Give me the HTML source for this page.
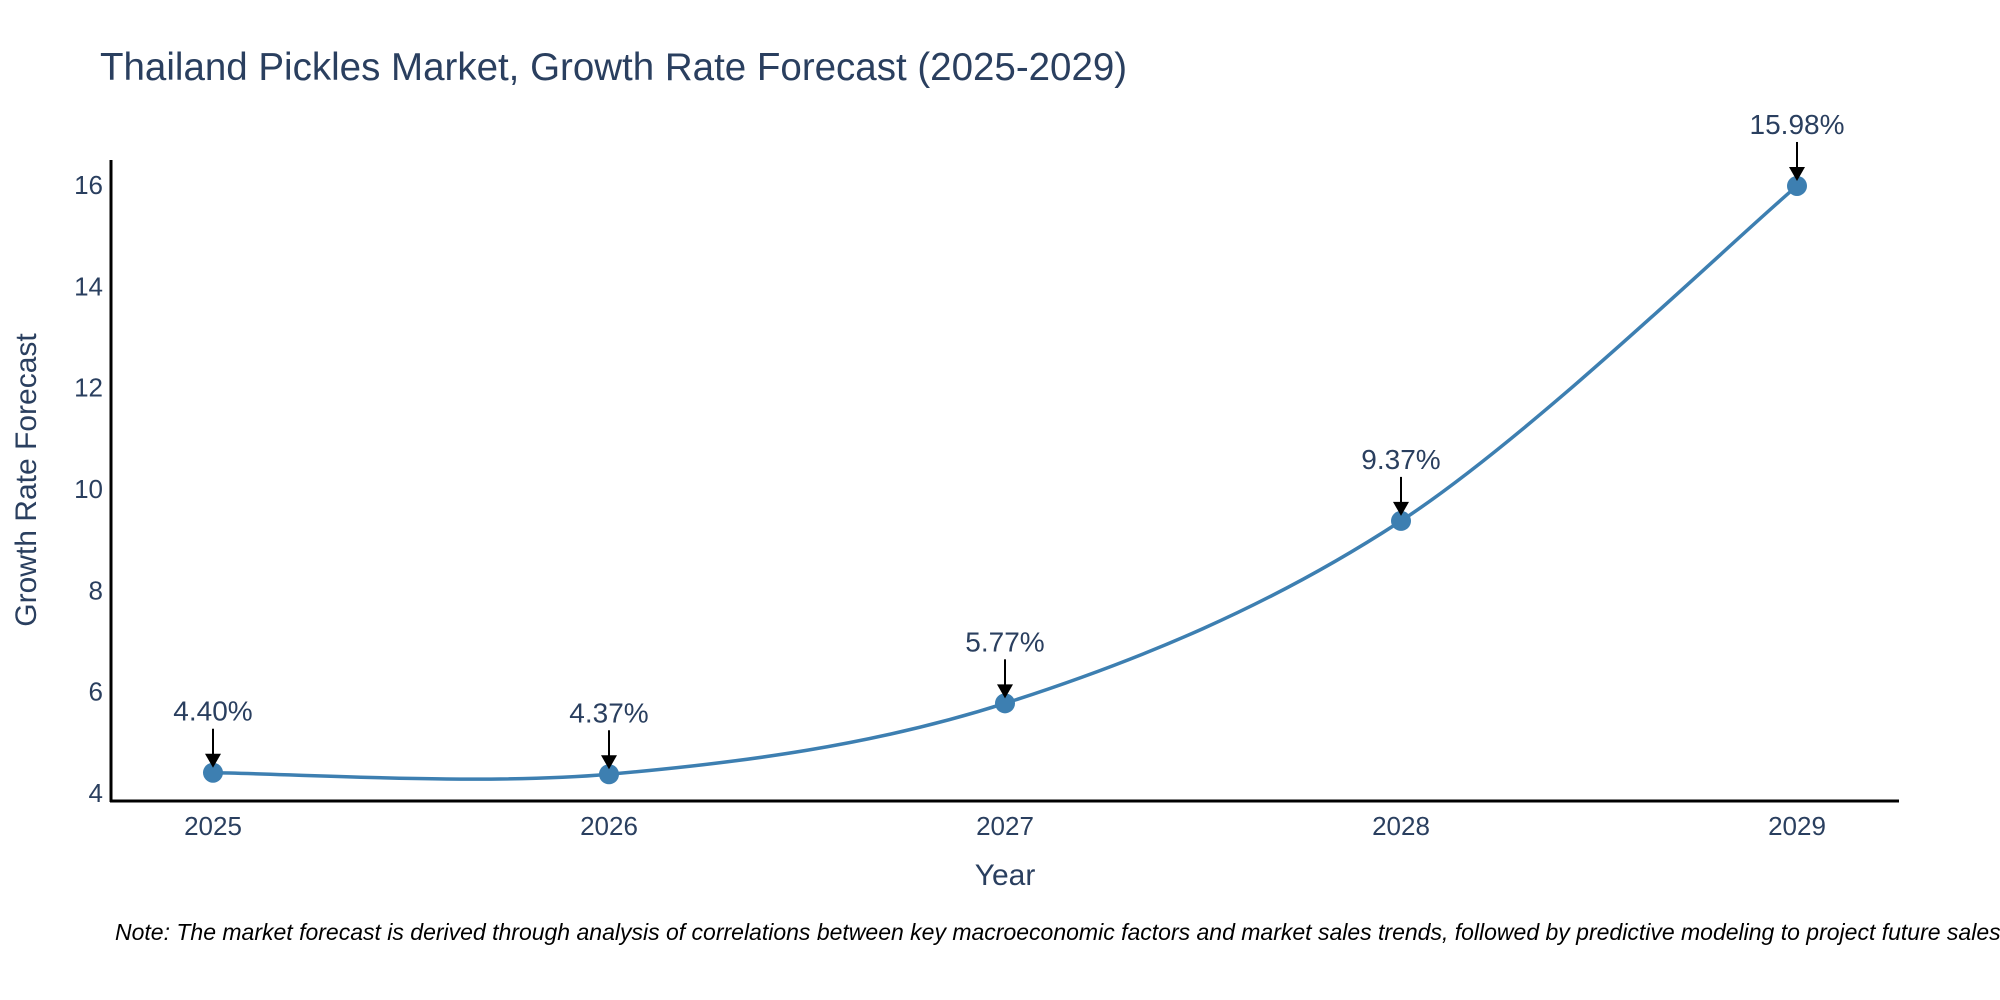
<!DOCTYPE html>
<html><head><meta charset="utf-8"><style>
body{margin:0;background:#fff}
svg{display:block;font-family:"Liberation Sans","DejaVu Sans",sans-serif}
</style></head><body>
<svg id="chart" width="2000" height="1000" viewBox="0 0 2000 1000">
<rect width="2000" height="1000" fill="#fff"/>
<text x="100" y="80" font-size="38.5" fill="#2a3f5f">Thailand Pickles Market, Growth Rate Forecast (2025-2029)</text>
<g id="yticks"></g><g id="xticks"></g>
<line x1="111" y1="160" x2="111" y2="802" stroke="#000" stroke-width="3"/>
<line x1="110" y1="801" x2="1899" y2="801" stroke="#000" stroke-width="3"/>
<path id="line" fill="none" stroke="#3d7fb1" stroke-width="3.5"/>
<g id="marks"></g>
<text x="1005" y="885" font-size="30" fill="#2a3f5f" text-anchor="middle">Year</text>
<text transform="translate(36,480) rotate(-90)" font-size="30" fill="#2a3f5f" text-anchor="middle">Growth Rate Forecast</text>
<text x="115" y="940" font-size="23" font-style="italic" fill="#000">Note: The market forecast is derived through analysis of correlations between key macroeconomic factors and market sales trends, followed by predictive modeling to project future sales.</text>
</svg>
<script>
const years=["2025","2026","2027","2028","2029"];
const values=[4.40,4.37,5.77,9.37,15.98];
const yTickVals=[4,6,8,10,12,14,16];
const NS="http://www.w3.org/2000/svg";
function xs(i){return 213+i*396;}
function ys(v){return 793-(v-4)*50.67;}
function mk(tag,attrs,parent){const e=document.createElementNS(NS,tag);for(const k in attrs)e.setAttribute(k,attrs[k]);parent.appendChild(e);return e;}
const yg=document.getElementById('yticks');
yTickVals.forEach(v=>{const t=mk('text',{x:103,y:ys(v)+9,'font-size':26,fill:'#2a3f5f','text-anchor':'end'},yg);t.textContent=v;

});
const xg=document.getElementById('xticks');
years.forEach((y,i)=>{const t=mk('text',{x:xs(i),y:835,'font-size':26,fill:'#2a3f5f','text-anchor':'middle'},xg);t.textContent=y;

});
const P=values.map((v,i)=>[xs(i),ys(v)]);
let d='M'+P[0][0]+','+P[0][1];
for(let i=0;i<P.length-1;i++){const p0=P[Math.max(0,i-1)],p1=P[i],p2=P[i+1],p3=P[Math.min(P.length-1,i+2)];const s=6;
d+=' C'+(p1[0]+(p2[0]-p0[0])/s)+','+(p1[1]+(p2[1]-p0[1])/s)+' '+(p2[0]-(p3[0]-p1[0])/s)+','+(p2[1]-(p3[1]-p1[1])/s)+' '+p2[0]+','+p2[1];}
document.getElementById('line').setAttribute('d',d);
const mg=document.getElementById('marks');
P.forEach((p,i)=>{
const c=mk('circle',{cx:p[0],cy:p[1],r:10,fill:'#3d7fb1'},mg);


const l=mk('line',{x1:p[0],y1:p[1]-44,x2:p[0],y2:p[1]-18,stroke:'#000','stroke-width':2},mg);


const a=mk('path',{d:`M${p[0]-8},${p[1]-19} L${p[0]+8},${p[1]-19} L${p[0]},${p[1]-5} Z`,fill:'#000'},mg);


const t=mk('text',{x:p[0],y:p[1]-52,'font-size':28,fill:'#2a3f5f','text-anchor':'middle'},mg);
t.textContent=values[i].toFixed(2)+'%';


});
</script>
</body></html>
